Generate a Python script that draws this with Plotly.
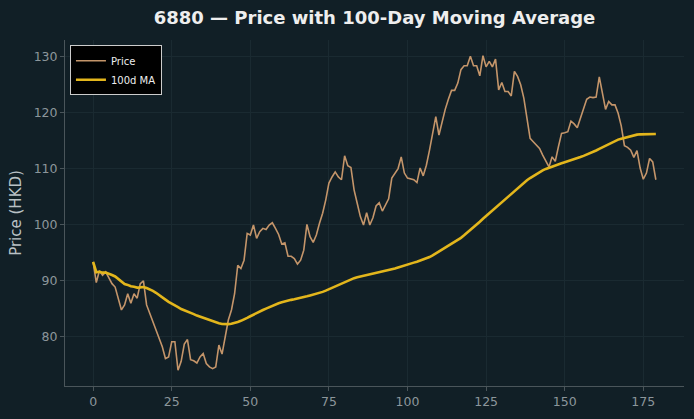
import numpy as np
import pandas as pd
import plotly.graph_objects as go

days = list(range(180))
price = [
    93.3, 89.6, 91.7, 90.9, 91.5, 90.3, 89.4, 88.8, 86.8, 84.7,
    85.6, 87.6, 85.9, 87.6, 86.8, 89.4, 89.9, 85.6, 84.1, 82.6,
    81.1, 79.9, 78.1, 76.0, 76.3, 79.0, 79.0, 73.9, 75.5, 78.6,
    79.4, 75.8, 75.6, 75.2, 76.3, 76.9, 75.1, 74.5, 74.2, 74.5,
    78.4, 76.8, 79.9, 82.9, 84.7, 87.6, 92.7, 92.1, 93.6, 98.4,
    98.1, 99.9, 97.5, 98.7, 99.3, 99.1, 99.9, 100.3, 99.3, 98.2,
    96.5, 96.7, 94.3, 94.3, 93.9, 92.9, 93.6, 95.4, 100.0, 97.8,
    96.8, 98.1, 100.2, 102.0, 104.4, 107.4, 108.5, 109.4, 108.5, 108.0,
    112.3, 110.5, 110.2, 106.2, 103.8, 101.4, 99.9, 102.1, 99.9, 101.2,
    103.3, 103.9, 102.4, 103.4, 104.6, 108.3, 109.2, 110.0, 112.1, 109.2,
    108.3, 108.1, 108.0, 107.5, 110.1, 108.7, 110.6, 113.3, 116.6, 119.3,
    116.0, 118.6, 120.6, 122.4, 124.0, 124.0, 125.3, 127.7, 128.4, 128.4,
    130.1, 128.4, 128.4, 126.6, 130.2, 128.2, 129.2, 128.2, 129.6, 124.1,
    125.4, 123.8, 123.8, 123.0, 127.4, 126.5, 125.0, 122.6, 119.0, 115.4,
    114.8, 114.1, 113.6, 112.4, 111.2, 110.3, 112.1, 111.3, 113.9, 116.3,
    116.4, 116.6, 118.5, 118.0, 117.3, 119.0, 120.8, 122.4, 122.8, 122.7,
    122.8, 126.4, 123.5, 120.6, 122.0, 121.4, 121.4, 119.9, 117.6, 114.1,
    113.8, 113.3, 112.0, 113.2, 110.1, 108.1, 109.2, 111.8, 111.2, 108.0,
]
ma100 = pd.Series(price).rolling(100, min_periods=1).mean().tolist()

x_ticks = [0, 25, 50, 75, 100, 125, 150, 175]
y_ticks = [80, 90, 100, 110, 120, 130]

BG = "#111f26"
GRID = "#1a2a31"
SPINE = "#4a555a"
TICK = "#8c969b"

fig = go.Figure()
fig.add_trace(go.Scatter(x=days, y=price, mode="lines", name="Price",
                         line=dict(color="#c4956a", width=1.6)))
fig.add_trace(go.Scatter(x=days, y=ma100, mode="lines", name="100d MA",
                         line=dict(color="#e3b61c", width=2.6)))

xmin, xmax = min(days), max(days)
xpad = (xmax - xmin) * 0.05
allv = price + ma100
ymin, ymax = min(allv), max(allv)
ypad = (ymax - ymin) * 0.05

fig.update_layout(
    width=694, height=419,
    paper_bgcolor=BG, plot_bgcolor=BG,
    margin=dict(l=65, r=10, t=40, b=33),
    font=dict(family="DejaVu Sans", color=TICK),
    title=dict(text="<b>6880 — Price with 100-Day Moving Average</b>",
               x=(65 + 684) / 2 / 694, xanchor="center", y=1 - 18 / 419, yanchor="middle",
               font=dict(size=18, color="#eeeeee", family="DejaVu Sans")),
    showlegend=True,
    legend=dict(x=0.008, y=0.985, xanchor="left", yanchor="top",
                bgcolor="#000000", bordercolor="#cccccc", borderwidth=1,
                font=dict(size=10, color="#eeeeee"),
                itemwidth=30, tracegroupgap=0),
)
fig.update_xaxes(range=[xmin - xpad, xmax + xpad], tickmode="array", tickvals=x_ticks,
                 showgrid=True, gridcolor=GRID, gridwidth=1, zeroline=False,
                 showline=True, linecolor=SPINE, linewidth=1, mirror=False,
                 ticks="outside", ticklen=4, tickcolor=SPINE,
                 tickfont=dict(size=12.5, color=TICK))
fig.update_yaxes(range=[ymin - ypad, ymax + ypad], tickmode="array", tickvals=y_ticks,
                 showgrid=True, gridcolor=GRID, gridwidth=1, zeroline=False,
                 showline=True, linecolor=SPINE, linewidth=1, mirror=False,
                 ticks="outside", ticklen=4, tickcolor=SPINE,
                 tickfont=dict(size=12.5, color=TICK),
                 title=dict(text="Price (HKD)", font=dict(size=15, color="#b9c1c5"), standoff=8))

fig.write_html("out.html")
